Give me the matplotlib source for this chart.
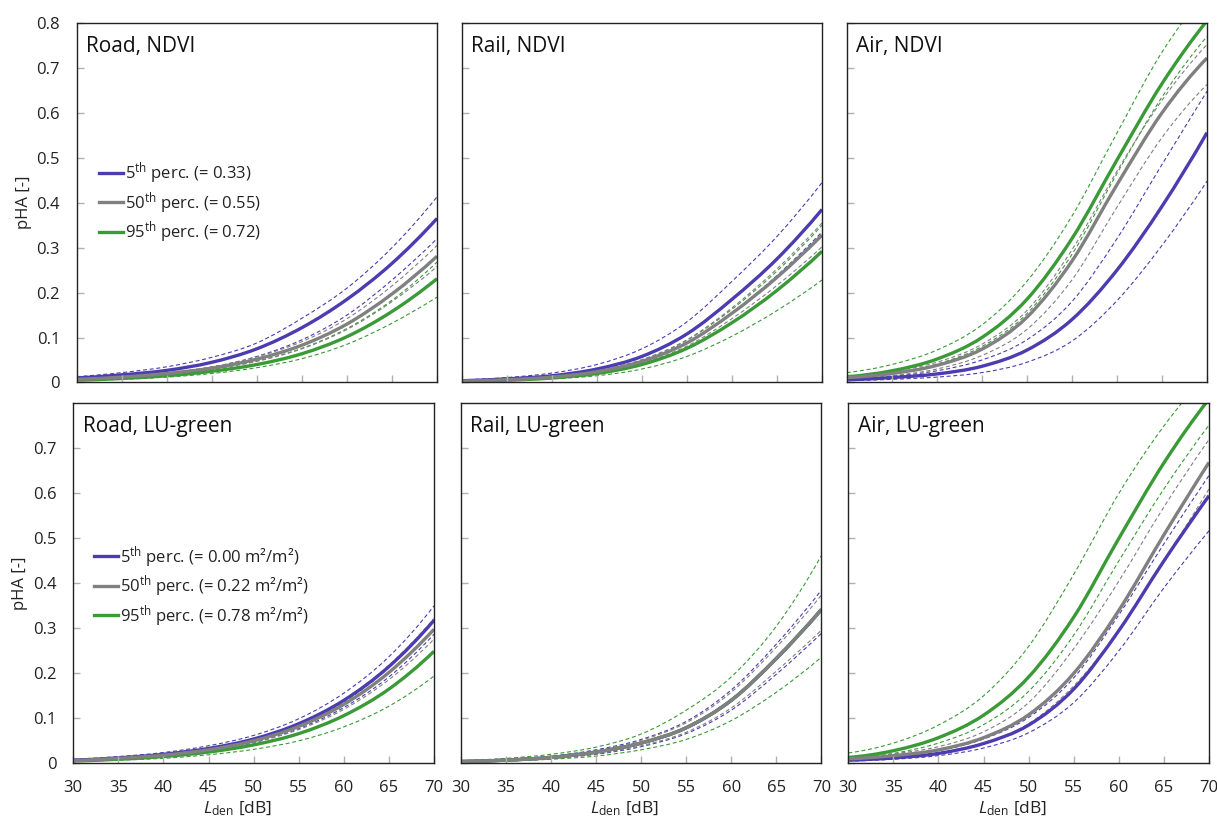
import numpy as np
import matplotlib
matplotlib.use("Agg")
import matplotlib.pyplot as plt
from matplotlib.path import Path
from matplotlib.patches import PathPatch
from matplotlib.lines import Line2D

plt.rcParams['font.family'] = ['Open Sans', 'DejaVu Sans']
plt.rcParams['mathtext.fontset'] = 'custom'
plt.rcParams['mathtext.rm'] = 'Open Sans'
plt.rcParams['mathtext.it'] = 'Open Sans:italic'

# noise level [dB]
l_den = [30, 35, 40, 45, 50, 55, 60, 65, 70]

# ---- Road, NDVI ----
road_ndvi_p5 = [0.010, 0.017, 0.027, 0.045, 0.075, 0.122, 0.185, 0.265, 0.365]
road_ndvi_p5_hi = [0.013, 0.022, 0.035, 0.056, 0.088, 0.143, 0.210, 0.300, 0.413]
road_ndvi_p5_lo = [0.007, 0.012, 0.020, 0.034, 0.058, 0.095, 0.150, 0.228, 0.320]
road_ndvi_p50 = [0.007, 0.012, 0.020, 0.032, 0.052, 0.083, 0.130, 0.197, 0.281]
road_ndvi_p50_hi = [0.008, 0.013, 0.022, 0.035, 0.057, 0.091, 0.142, 0.215, 0.305]
road_ndvi_p50_lo = [0.006, 0.011, 0.018, 0.029, 0.047, 0.075, 0.118, 0.180, 0.258]
road_ndvi_p95 = [0.005, 0.009, 0.015, 0.025, 0.040, 0.064, 0.102, 0.158, 0.231]
road_ndvi_p95_hi = [0.007, 0.011, 0.018, 0.030, 0.048, 0.076, 0.120, 0.183, 0.268]
road_ndvi_p95_lo = [0.004, 0.007, 0.012, 0.020, 0.033, 0.053, 0.085, 0.132, 0.190]

# ---- Rail, NDVI ----
rail_ndvi_p5 = [0.004, 0.008, 0.015, 0.030, 0.058, 0.108, 0.185, 0.275, 0.385]
rail_ndvi_p5_hi = [0.006, 0.011, 0.021, 0.040, 0.075, 0.135, 0.225, 0.325, 0.445]
rail_ndvi_p5_lo = [0.003, 0.006, 0.011, 0.022, 0.045, 0.088, 0.155, 0.238, 0.335]
rail_ndvi_p50 = [0.003, 0.006, 0.012, 0.024, 0.047, 0.088, 0.154, 0.234, 0.328]
rail_ndvi_p50_hi = [0.003, 0.007, 0.013, 0.026, 0.051, 0.095, 0.166, 0.253, 0.355]
rail_ndvi_p50_lo = [0.003, 0.006, 0.011, 0.022, 0.043, 0.081, 0.142, 0.216, 0.302]
rail_ndvi_p95 = [0.003, 0.005, 0.010, 0.020, 0.040, 0.076, 0.133, 0.205, 0.292]
rail_ndvi_p95_hi = [0.004, 0.007, 0.013, 0.026, 0.050, 0.094, 0.163, 0.248, 0.350]
rail_ndvi_p95_lo = [0.002, 0.004, 0.008, 0.015, 0.030, 0.058, 0.103, 0.160, 0.228]

# ---- Air, NDVI ----
air_ndvi_p5 = [0.006, 0.011, 0.019, 0.036, 0.072, 0.140, 0.250, 0.392, 0.556]
air_ndvi_p5_hi = [0.008, 0.014, 0.026, 0.050, 0.095, 0.180, 0.320, 0.485, 0.648]
air_ndvi_p5_lo = [0.004, 0.007, 0.012, 0.022, 0.045, 0.092, 0.182, 0.305, 0.448]
air_ndvi_p50 = [0.011, 0.020, 0.038, 0.074, 0.145, 0.270, 0.440, 0.600, 0.722]
air_ndvi_p50_hi = [0.013, 0.024, 0.045, 0.085, 0.160, 0.295, 0.470, 0.628, 0.752]
air_ndvi_p50_lo = [0.008, 0.015, 0.030, 0.060, 0.118, 0.228, 0.390, 0.545, 0.663]
air_ndvi_p95 = [0.013, 0.026, 0.052, 0.100, 0.185, 0.320, 0.495, 0.665, 0.805]
air_ndvi_p95_hi = [0.022, 0.040, 0.072, 0.128, 0.225, 0.370, 0.555, 0.735, 0.870]
air_ndvi_p95_lo = [0.011, 0.021, 0.041, 0.080, 0.153, 0.285, 0.465, 0.635, 0.770]

# ---- Road, LU-green ----
road_lu_p5 = [0.007, 0.012, 0.020, 0.033, 0.054, 0.088, 0.140, 0.215, 0.318]
road_lu_p5_hi = [0.009, 0.015, 0.024, 0.039, 0.062, 0.099, 0.156, 0.237, 0.350]
road_lu_p5_lo = [0.005, 0.009, 0.016, 0.027, 0.046, 0.077, 0.124, 0.192, 0.287]
road_lu_p50 = [0.006, 0.011, 0.018, 0.030, 0.050, 0.082, 0.131, 0.202, 0.298]
road_lu_p50_hi = [0.007, 0.012, 0.020, 0.033, 0.055, 0.089, 0.141, 0.218, 0.322]
road_lu_p50_lo = [0.006, 0.010, 0.017, 0.028, 0.046, 0.075, 0.120, 0.186, 0.276]
road_lu_p95 = [0.005, 0.009, 0.015, 0.025, 0.041, 0.066, 0.106, 0.165, 0.249]
road_lu_p95_hi = [0.007, 0.011, 0.019, 0.031, 0.052, 0.085, 0.136, 0.213, 0.318]
road_lu_p95_lo = [0.004, 0.007, 0.011, 0.019, 0.031, 0.050, 0.081, 0.127, 0.194]

# ---- Rail, LU-green ----
rail_lu_p5 = [0.004, 0.007, 0.013, 0.025, 0.045, 0.079, 0.140, 0.233, 0.342]
rail_lu_p5_hi = [0.005, 0.009, 0.016, 0.030, 0.053, 0.093, 0.163, 0.265, 0.385]
rail_lu_p5_lo = [0.003, 0.006, 0.011, 0.020, 0.037, 0.066, 0.118, 0.198, 0.289]
rail_lu_p50 = [0.004, 0.007, 0.013, 0.025, 0.045, 0.079, 0.140, 0.233, 0.342]
rail_lu_p50_hi = [0.005, 0.008, 0.015, 0.028, 0.051, 0.090, 0.158, 0.258, 0.374]
rail_lu_p50_lo = [0.004, 0.006, 0.011, 0.021, 0.039, 0.069, 0.123, 0.205, 0.296]
rail_lu_p95 = [0.004, 0.007, 0.013, 0.025, 0.045, 0.079, 0.140, 0.233, 0.342]
rail_lu_p95_hi = [0.006, 0.011, 0.020, 0.036, 0.065, 0.118, 0.192, 0.305, 0.462]
rail_lu_p95_lo = [0.003, 0.005, 0.009, 0.016, 0.030, 0.053, 0.095, 0.158, 0.236]

# ---- Air, LU-green ----
air_lu_p5 = [0.007, 0.012, 0.022, 0.044, 0.085, 0.165, 0.295, 0.450, 0.595]
air_lu_p5_hi = [0.009, 0.016, 0.028, 0.054, 0.102, 0.190, 0.330, 0.488, 0.640]
air_lu_p5_lo = [0.005, 0.009, 0.017, 0.034, 0.068, 0.135, 0.250, 0.390, 0.517]
air_lu_p50 = [0.010, 0.017, 0.030, 0.057, 0.108, 0.200, 0.340, 0.508, 0.669]
air_lu_p50_hi = [0.012, 0.021, 0.037, 0.070, 0.135, 0.255, 0.405, 0.570, 0.720]
air_lu_p50_lo = [0.008, 0.014, 0.024, 0.045, 0.088, 0.172, 0.295, 0.450, 0.610]
air_lu_p95 = [0.013, 0.028, 0.057, 0.107, 0.192, 0.325, 0.500, 0.668, 0.810]
air_lu_p95_hi = [0.023, 0.045, 0.085, 0.150, 0.260, 0.420, 0.600, 0.750, 0.870]
air_lu_p95_lo = [0.010, 0.022, 0.045, 0.086, 0.160, 0.285, 0.450, 0.610, 0.752]

titles = ['Road, NDVI', 'Rail, NDVI', 'Air, NDVI',
          'Road, LU-green', 'Rail, LU-green', 'Air, LU-green']
ndvi_labels = [r'$5^{\mathrm{th}}$ perc. (= 0.33)',
               r'$50^{\mathrm{th}}$ perc. (= 0.55)',
               r'$95^{\mathrm{th}}$ perc. (= 0.72)']
lu_labels = [r'$5^{\mathrm{th}}$ perc. (= 0.00 m²/m²)',
             r'$50^{\mathrm{th}}$ perc. (= 0.22 m²/m²)',
             r'$95^{\mathrm{th}}$ perc. (= 0.78 m²/m²)']
x_ticks = [30, 35, 40, 45, 50, 55, 60, 65, 70]
y_ticks_top = [0, 0.1, 0.2, 0.3, 0.4, 0.5, 0.6, 0.7, 0.8]
y_labels_top = ['0', '0.1', '0.2', '0.3', '0.4', '0.5', '0.6', '0.7', '0.8']
y_ticks_bottom = [0, 0.1, 0.2, 0.3, 0.4, 0.5, 0.6, 0.7]
y_labels_bottom = ['0', '0.1', '0.2', '0.3', '0.4', '0.5', '0.6', '0.7']

panels = [
    [(road_ndvi_p5_lo, road_ndvi_p5, road_ndvi_p5_hi),
     (road_ndvi_p95_lo, road_ndvi_p95, road_ndvi_p95_hi),
     (road_ndvi_p50_lo, road_ndvi_p50, road_ndvi_p50_hi)],
    [(rail_ndvi_p5_lo, rail_ndvi_p5, rail_ndvi_p5_hi),
     (rail_ndvi_p95_lo, rail_ndvi_p95, rail_ndvi_p95_hi),
     (rail_ndvi_p50_lo, rail_ndvi_p50, rail_ndvi_p50_hi)],
    [(air_ndvi_p5_lo, air_ndvi_p5, air_ndvi_p5_hi),
     (air_ndvi_p95_lo, air_ndvi_p95, air_ndvi_p95_hi),
     (air_ndvi_p50_lo, air_ndvi_p50, air_ndvi_p50_hi)],
    [(road_lu_p5_lo, road_lu_p5, road_lu_p5_hi),
     (road_lu_p95_lo, road_lu_p95, road_lu_p95_hi),
     (road_lu_p50_lo, road_lu_p50, road_lu_p50_hi)],
    [(rail_lu_p5_lo, rail_lu_p5, rail_lu_p5_hi),
     (rail_lu_p95_lo, rail_lu_p95, rail_lu_p95_hi),
     (rail_lu_p50_lo, rail_lu_p50, rail_lu_p50_hi)],
    [(air_lu_p5_lo, air_lu_p5, air_lu_p5_hi),
     (air_lu_p95_lo, air_lu_p95, air_lu_p95_hi),
     (air_lu_p50_lo, air_lu_p50, air_lu_p50_hi)],
]

PURPLE = '#4b3cb0'
GREEN = '#3a9a36'
GRAY = '#808080'
colors = [PURPLE, GREEN, GRAY]  # drawing order: 5th, 95th, 50th


def smooth_path(x, y):
    # smooth Bezier path through the read points (monotone cubic slopes)
    x = np.asarray(x, float)
    y = np.asarray(y, float)
    h = np.diff(x)
    d = np.diff(y) / h
    m = np.zeros_like(y)
    m[1:-1] = np.where(d[:-1] * d[1:] > 0, (d[:-1] + d[1:]) / 2, 0)
    m[0] = max((3 * d[0] - d[1]) / 2, 0)
    m[-1] = max((3 * d[-1] - d[-2]) / 2, 0)
    for k in range(len(d)):
        if d[k] == 0:
            m[k] = m[k + 1] = 0
            continue
        a, b = m[k] / d[k], m[k + 1] / d[k]
        s = a * a + b * b
        if s > 9:
            t = 3 / np.sqrt(s)
            m[k], m[k + 1] = t * a * d[k], t * b * d[k]
    verts = [(x[0], y[0])]
    codes = [Path.MOVETO]
    for k in range(len(h)):
        verts += [(x[k] + h[k] / 3, y[k] + m[k] * h[k] / 3),
                  (x[k + 1] - h[k] / 3, y[k + 1] - m[k + 1] * h[k] / 3),
                  (x[k + 1], y[k + 1])]
        codes += [Path.CURVE4] * 3
    return Path(verts, codes)


# axes boxes in pixels (left, top, width, height)
W, H = 1217, 823
boxes = [(76.7, 23, 360.3, 359.5), (461.7, 23, 360.3, 359.5), (846.7, 23, 360.3, 359.5),
         (73.3, 403.5, 360.7, 359.8), (460.7, 403.5, 360.7, 359.8), (848.3, 403.5, 360.7, 359.8)]

fig = plt.figure(figsize=(W / 100, H / 100), dpi=100)

for i, (curves, title, box) in enumerate(zip(panels, titles, boxes)):
    l, t, w, h = box
    ax = fig.add_axes([l / W, 1 - (t + h) / H, w / W, h / H])
    for (lo, mid, hi), c in zip(curves, colors):
        for band in (lo, hi):
            ax.add_patch(PathPatch(smooth_path(l_den, band), fill=False, edgecolor=c,
                                   lw=0.8, ls=(0, (3.6, 2.4))))
    for (lo, mid, hi), c in zip(curves, colors):
        ax.add_patch(PathPatch(smooth_path(l_den, mid), fill=False, edgecolor=c,
                               lw=2.4, capstyle='butt'))

    ax.set_xlim(30, 70)
    ax.set_ylim(0, 0.8)
    ax.set_xticks(x_ticks)
    top = i < 3
    if top:
        ax.set_yticks(y_ticks_top)
        ax.set_xticklabels([])
    else:
        ax.set_yticks(y_ticks_bottom)
        ax.set_xticklabels([str(v) for v in x_ticks])
        ax.set_xlabel(r'$L_{\mathrm{den}}$ [dB]', fontsize=12.5, color='#222222')
        ax.xaxis.set_label_coords(0.455, -0.1)
    if i % 3 == 0:
        ax.set_yticklabels(y_labels_top if top else y_labels_bottom)
        ax.set_ylabel('pHA [-]', fontsize=12, color='#222222')
        ax.yaxis.set_label_coords(-0.125, 0.5)
    else:
        ax.set_yticklabels([])
    ax.tick_params(direction='in', length=5, width=1, color='#b0b0b0',
                   labelsize=12, labelcolor='#222222', pad=12)
    for s in ax.spines.values():
        s.set_color('#222222')
        s.set_linewidth(1.0)
    ax.text(0.026, 0.935, title, transform=ax.transAxes, fontsize=15,
            ha='left', va='center', color='#111111')

    if i == 0 or i == 3:
        labels = ndvi_labels if i == 0 else lu_labels
        handles = [Line2D([], [], color=c, lw=2.4) for c in (PURPLE, GRAY, GREEN)]
        ax.legend(handles, labels,
                  loc='upper left', bbox_to_anchor=(0.062 if i == 0 else 0.058, 0.618 if i == 0 else 0.61),
                  frameon=False, fontsize=12, handlelength=1.45, handletextpad=0.12,
                  labelspacing=0.21, borderpad=0, borderaxespad=0, labelcolor='#222222')

fig.savefig('out.png', dpi=100)
